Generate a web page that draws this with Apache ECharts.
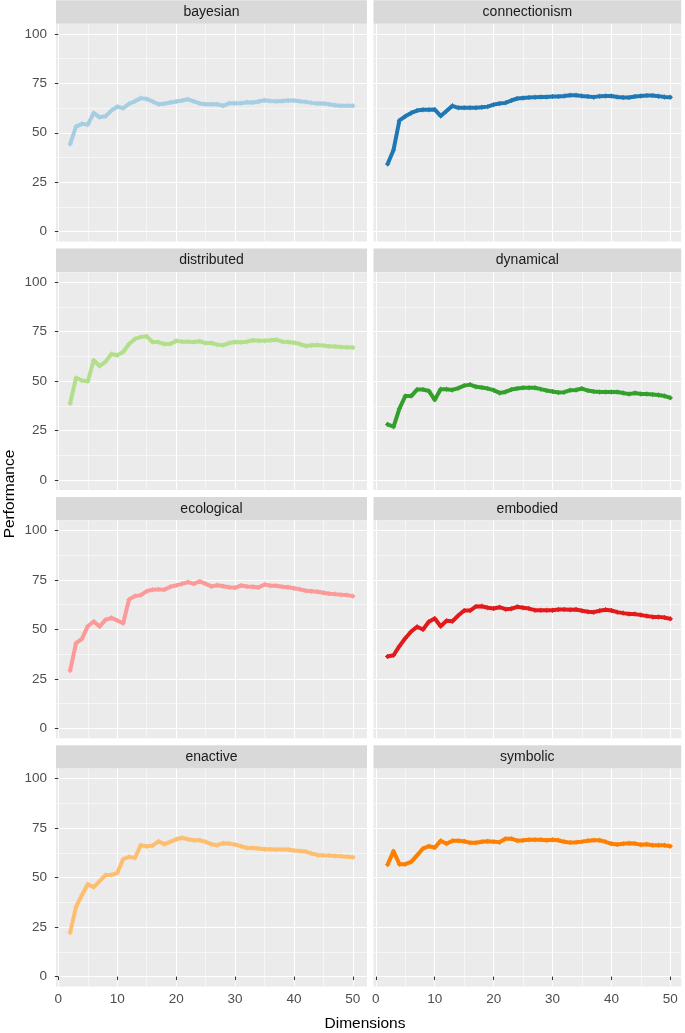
<!DOCTYPE html>
<html>
<head>
<meta charset="utf-8">
<script src="https://cdn.jsdelivr.net/npm/echarts@6/dist/echarts.min.js"></script>
<style>html,body{margin:0;padding:0;background:#fff}#c{width:685px;height:1033px}</style>
</head>
<body>
<div id="c"></div>
<script>
const dimensions = [2,3,4,5,6,7,8,9,10,11,12,13,14,15,16,17,18,19,20,21,22,23,24,25,26,27,28,29,30,31,32,33,34,35,36,37,38,39,40,41,42,43,44,45,46,47,48,49,50];
const panelNames = ['bayesian','connectionism','distributed','dynamical','ecological','embodied','enactive','symbolic'];
const bayesian = [44.3,53.1,54.5,54.1,60.0,57.8,58.3,61.2,63.2, 62.4,64.6,65.9,67.5,67.1,65.8,64.4,64.6,65.3,65.8, 66.3,66.9,65.9,64.8,64.4,64.4,64.4,63.6,64.9,64.9, 64.9,65.4,65.3,65.8,66.4,66.1,65.9,66.1,66.3,66.3, 65.9,65.6,65.1,64.8,64.8,64.4,63.9,63.6,63.6,63.6];
const connectionism = [34.2,41.3,56.2,58.3,60.0,61.2,61.6,61.6,61.7, 58.5,61.0,63.6,62.6,62.6,62.6,62.6,62.9,63.2,64.2, 64.8,65.1,66.3,67.3,67.6,67.8,68.0,68.1,68.1,68.3, 68.3,68.6,69.0,69.0,68.6,68.3,68.0,68.5,68.6,68.6, 68.1,67.8,67.8,68.3,68.6,68.8,68.8,68.5,68.1,68.0];
const distributed = [38.7,51.6,50.3,49.9,60.5,57.6,59.7,63.7,63.0, 64.7,68.7,71.3,72.3,72.6,69.7,69.7,68.7,68.7,70.3, 69.9,69.9,69.7,70.1,69.2,69.2,68.4,68.1,69.2,69.7, 69.6,69.9,70.6,70.4,70.4,70.6,70.9,69.9,69.7,69.4, 68.7,67.7,68.1,68.2,67.9,67.6,67.4,67.2,67.1,66.9];
const dynamical = [28.1,26.9,36.1,42.4,42.4,45.7,45.7,45.0,40.5, 45.9,45.9,45.5,46.4,47.7,48.2,47.1,46.7,46.2,45.4, 44.0,44.5,45.7,46.2,46.6,46.6,46.6,45.9,45.2,44.7, 44.2,44.4,45.4,45.5,46.2,45.2,44.7,44.5,44.5,44.5, 44.5,44.0,43.4,44.0,43.5,43.4,43.2,42.9,42.5,41.5];
const ecological = [29.2,43.0,45.2,51.6,54.0,51.4,54.8,55.8,54.5, 53.1,65.1,66.8,67.3,69.3,70.0,70.2,70.0,71.5,72.2, 73.0,73.9,73.0,74.2,73.0,71.7,72.3,71.8,71.3,71.0, 72.2,71.7,71.5,71.2,72.7,72.0,72.0,71.5,71.3,70.8, 70.2,69.5,69.3,69.0,68.5,68.0,67.8,67.5,67.3,66.8];
const embodied = [36.3,36.9,41.5,45.5,48.9,51.3,49.9,53.8,55.5, 51.6,54.3,54.1,57.0,59.5,59.5,61.6,61.7,60.9,60.5, 61.2,60.2,60.4,61.4,60.9,60.5,59.7,59.7,59.7,59.7, 60.0,60.0,59.9,60.0,59.4,58.9,58.7,59.4,59.9,59.5, 58.7,58.2,57.8,57.7,57.3,56.7,56.3,56.3,56.0,55.3];
const enactive = [22.2,35.3,41.2,46.7,45.2,48.2,51.3,51.3,52.4, 59.3,60.5,60.0,66.4,65.9,66.2,68.4,66.9,68.1,69.4, 70.1,69.4,68.9,68.9,68.1,66.9,66.4,67.4,67.2,66.7, 65.9,65.0,65.0,64.7,64.4,64.4,64.2,64.2,64.2,63.7, 63.5,63.2,62.2,61.5,61.3,61.2,61.0,60.8,60.5,60.3];
const symbolic = [56.6,63.4,56.8,56.8,58.0,61.3,64.7,65.9,65.2, 68.6,67.1,68.6,68.6,68.4,67.6,67.6,68.1,68.4,68.2, 67.9,69.6,69.7,68.7,68.9,69.2,69.2,69.2,68.9,69.2, 68.9,68.1,67.7,67.9,68.2,68.6,68.9,68.9,68.1,67.1, 66.7,67.1,67.4,67.2,66.6,66.9,66.4,66.4,66.4,65.9];
const xTickValues = [0,10,20,30,40,50];
const xMinorValues = [5,15,25,35,45];
const yTickValues = [0,25,50,75,100];
const yMinorValues = [12.5,37.5,62.5,87.5];
const panelColors = ['#A6CEE3','#1F78B4','#B2DF8A','#33A02C','#FB9A99','#E31A1C','#FDBF6F','#FF7F00'];
const xTitle = 'Dimensions';
const yTitle = 'Performance';

const seriesValues = [bayesian, connectionism, distributed, dynamical, ecological, embodied, enactive, symbolic];

// layout
const FONT = '"Liberation Sans", Arial, Helvetica, sans-serif';
const colLeft = [56, 373.5];
const colWidth = [311, 307.7];
const xMin = -0.4;
const xMaxFor = [52.4, 51.85];
const rowPitch = 248.3;
const stripH = 23.6;
const panelH = 217.7;

const grids = [], xAxes = [], yAxes = [], series = [], graphics = [];
panelNames.forEach((name, i) => {
  const row = Math.floor(i / 2), col = i % 2;
  const stripTop = row * rowPitch + 0.3;
  const top = stripTop + stripH;
  const isBottom = row === 3, isLeft = col === 0;
  grids.push({left: colLeft[col], top: top, width: colWidth[col], height: panelH,
    show: true, backgroundColor: '#EBEBEB', borderWidth: 0, containLabel: false});
  // major x
  xAxes.push({type: 'value', gridIndex: i, min: xMin, max: xMaxFor[col],
    axisLine: {show: false},
    axisTick: {show: isBottom, length: 3.5, customValues: xTickValues, lineStyle: {color: '#333333', width: 1}},
    axisLabel: {show: isBottom, customValues: xTickValues, color: '#4D4D4D', fontSize: 13.5, fontFamily: FONT, margin: 6},
    splitLine: {show: true, lineStyle: {color: '#FFFFFF', width: 1.1}}, z: 1});
  // minor x
  xAxes.push({type: 'value', gridIndex: i, min: xMin, max: xMaxFor[col],
    axisLine: {show: false},
    axisTick: {show: false, customValues: xMinorValues},
    axisLabel: {show: false, customValues: xMinorValues},
    splitLine: {show: true, lineStyle: {color: '#FFFFFF', width: 0.55}}, z: 0});
  yAxes.push({type: 'value', gridIndex: i, min: -5, max: 105,
    axisLine: {show: false},
    axisTick: {show: isLeft, length: 3.5, customValues: yTickValues, lineStyle: {color: '#333333', width: 1}},
    axisLabel: {show: isLeft, customValues: yTickValues, color: '#4D4D4D', fontSize: 13.5, fontFamily: FONT, margin: 9},
    splitLine: {show: true, lineStyle: {color: '#FFFFFF', width: 1.1}}, z: 1});
  yAxes.push({type: 'value', gridIndex: i, min: -5, max: 105,
    axisLine: {show: false},
    axisTick: {show: false, customValues: yMinorValues},
    axisLabel: {show: false, customValues: yMinorValues},
    splitLine: {show: true, lineStyle: {color: '#FFFFFF', width: 0.55}}, z: 0});
  const vals = seriesValues[i];
  series.push({type: 'line', name: name, xAxisIndex: 2 * i, yAxisIndex: 2 * i,
    data: dimensions.map((d, k) => [d, vals[k]]),
    symbol: 'path://M4,0H6V4H10V6H6V10H4V6H0V4H4Z', symbolSize: 5, showSymbol: true, showAllSymbol: true,
    itemStyle: {color: panelColors[i]},
    lineStyle: {color: panelColors[i], width: 4, join: 'round', cap: 'round'},
    emphasis: {disabled: true}, z: 3});
  graphics.push({type: 'rect', shape: {x: colLeft[col], y: stripTop, width: colWidth[col], height: stripH - 0.2},
    style: {fill: '#D9D9D9'}, silent: true});
  graphics.push({type: 'text', x: colLeft[col] + colWidth[col] / 2, y: stripTop + stripH / 2,
    style: {text: name, fill: '#1A1A1A', font: '14px ' + FONT, textAlign: 'center', textVerticalAlign: 'middle'}, silent: true});
});
graphics.push({type: 'text', x: 365, y: 1024, style: {text: xTitle, fill: '#000000', font: '15.5px ' + FONT, textAlign: 'center', textVerticalAlign: 'middle'}, silent: true});
graphics.push({type: 'text', x: 10, y: 494, rotation: Math.PI / 2, style: {text: yTitle, fill: '#000000', font: '15.5px ' + FONT, textAlign: 'center', textVerticalAlign: 'middle'}, silent: true});

const chart = echarts.init(document.getElementById('c'), null, {renderer: 'canvas'});
chart.setOption({
  animation: false,
  backgroundColor: '#FFFFFF',
  grid: grids, xAxis: xAxes, yAxis: yAxes, series: series, graphic: graphics
});
</script>
</body>
</html>
